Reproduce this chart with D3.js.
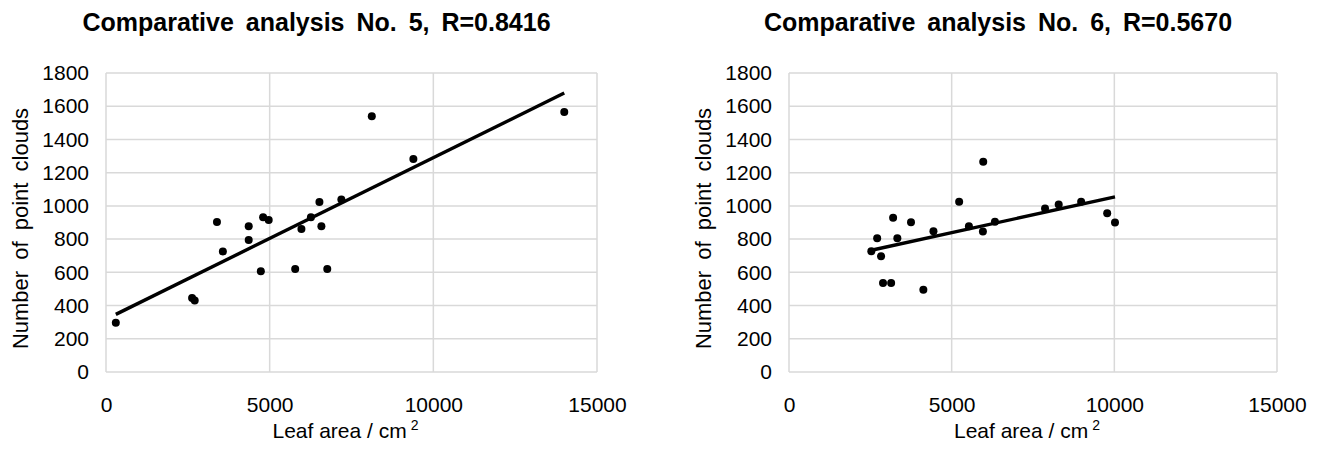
<!DOCTYPE html>
<html>
<head>
<meta charset="utf-8">
<script src="https://cdn.jsdelivr.net/npm/d3@7"></script>
<style>
  body { margin: 0; background: #fff; }
  svg { display: block; font-family: "Liberation Sans", Arial, sans-serif; }
</style>
</head>
<body>
<svg id="chart" width="1328" height="450"></svg>
<script>
// values (leaf area in cm², point cloud count)
const leafArea5 = [300, 2630, 2710, 3390, 3570, 4360, 4360, 4730, 4800, 4970,
                   5780, 5970, 6260, 6520, 6580, 6760, 7190, 8120, 9390, 14000]
const pointClouds5 = [296, 445, 430, 903, 726, 877, 795, 606, 932, 915,
                      620, 861, 932, 1024, 877, 620, 1038, 1539, 1282, 1565]

const leafArea6 = [2530, 2710, 2830, 2890, 3140, 3200, 3330, 3750, 4130, 4440,
                   5230, 5530, 5960, 5970, 6330, 7870, 8290, 8980, 9780, 10020]
const pointClouds6 = [727, 805, 697, 536, 536, 928, 805, 902, 495, 848,
                      1025, 878, 846, 1266, 904, 985, 1009, 1025, 956, 900]

const titles = ['Comparative analysis No. 5, R=0.8416', 'Comparative analysis No. 6, R=0.5670']
const xTicks = [0, 5000, 10000, 15000]
const yTicks = [0, 200, 400, 600, 800, 1000, 1200, 1400, 1600, 1800]
const xLabel = 'Leaf area / cm'
const yLabel = 'Number of point clouds'

const svg = d3.select('#chart')
svg.append('rect').attr('width', 1328).attr('height', 450).attr('fill', '#fff')

// least squares fit, same as the excel trendline
function fitLine(xs, ys) {
    let mx = d3.mean(xs), my = d3.mean(ys)
    let sxy = 0, sxx = 0
    xs.forEach((x, i) => {
        sxy += (x - mx) * (ys[i] - my)
        sxx += (x - mx) * (x - mx)
    })
    let b = sxy / sxx
    return { b: b, a: my - b * mx }
}

function drawPanel(left, right, title, xs, ys) {
    const top = 73, bottom = 372
    const x = d3.scaleLinear().domain([0, 15000]).range([left, right])
    const y = d3.scaleLinear().domain([0, 1800]).range([bottom, top])
    const g = svg.append('g')

    // grid
    g.append('g').selectAll('line.h')
        .data(yTicks).enter().append('line')
        .attr('x1', left).attr('x2', right)
        .attr('y1', d => y(d)).attr('y2', d => y(d))
        .attr('stroke', '#d9d9d9').attr('stroke-width', 1.5)
    g.append('g').selectAll('line.v')
        .data(xTicks).enter().append('line')
        .attr('y1', top).attr('y2', bottom)
        .attr('x1', d => x(d)).attr('x2', d => x(d))
        .attr('stroke', '#d9d9d9').attr('stroke-width', 1.5)

    // axes (labels only, no domain lines)
    const xAxis = g.append('g')
        .attr('transform', `translate(0,${bottom + 22})`)
        .call(d3.axisBottom(x).tickValues(xTicks).tickSize(0).tickFormat(d3.format('d')))
    const yAxis = g.append('g')
        .attr('transform', `translate(${left - 14},0)`)
        .call(d3.axisLeft(y).tickValues(yTicks).tickSize(0).tickFormat(d3.format('d')))
    ;[xAxis, yAxis].forEach(a => {
        a.select('.domain').remove()
        a.selectAll('text')
            .attr('font-family', '"Liberation Sans", Arial, sans-serif')
            .attr('font-size', 21).attr('fill', '#000')
    })

    // points
    g.append('g').selectAll('circle')
        .data(xs.map((v, i) => [v, ys[i]])).enter()
        .append('circle')
        .attr('cx', d => x(d[0]))
        .attr('cy', d => y(d[1]))
        .attr('r', 4)
        .attr('fill', '#000')

    // trendline
    const fit = fitLine(xs, ys)
    const ext = d3.extent(xs)
    g.append('line')
        .attr('x1', x(ext[0])).attr('y1', y(fit.a + fit.b * ext[0]))
        .attr('x2', x(ext[1])).attr('y2', y(fit.a + fit.b * ext[1]))
        .attr('stroke', '#000').attr('stroke-width', 3.4)

    // title
    g.append('text')
        .attr('x', (left + right) / 2 - 35).attr('y', 31)
        .attr('text-anchor', 'middle')
        .attr('font-size', 25).attr('font-weight', 'bold')
        .attr('word-spacing', 5)
        .text(title)

    // x label with superscript
    const xl = g.append('text')
        .attr('x', (left + right) / 2 - 6).attr('y', 438)
        .attr('text-anchor', 'middle')
        .attr('font-size', 21)
    xl.append('tspan').text(xLabel)
    xl.append('tspan').attr('font-size', 14).attr('dx', 4).attr('dy', -8).text('2')

    // y label
    g.append('text')
        .attr('transform', `translate(${left - 78},${(top + bottom) / 2 + 6}) rotate(-90)`)
        .attr('text-anchor', 'middle')
        .attr('font-size', 22)
        .attr('word-spacing', 5)
        .text(yLabel)
}

drawPanel(106, 597, titles[0], leafArea5, pointClouds5)
drawPanel(789, 1277, titles[1], leafArea6, pointClouds6)
</script>
</body>
</html>
